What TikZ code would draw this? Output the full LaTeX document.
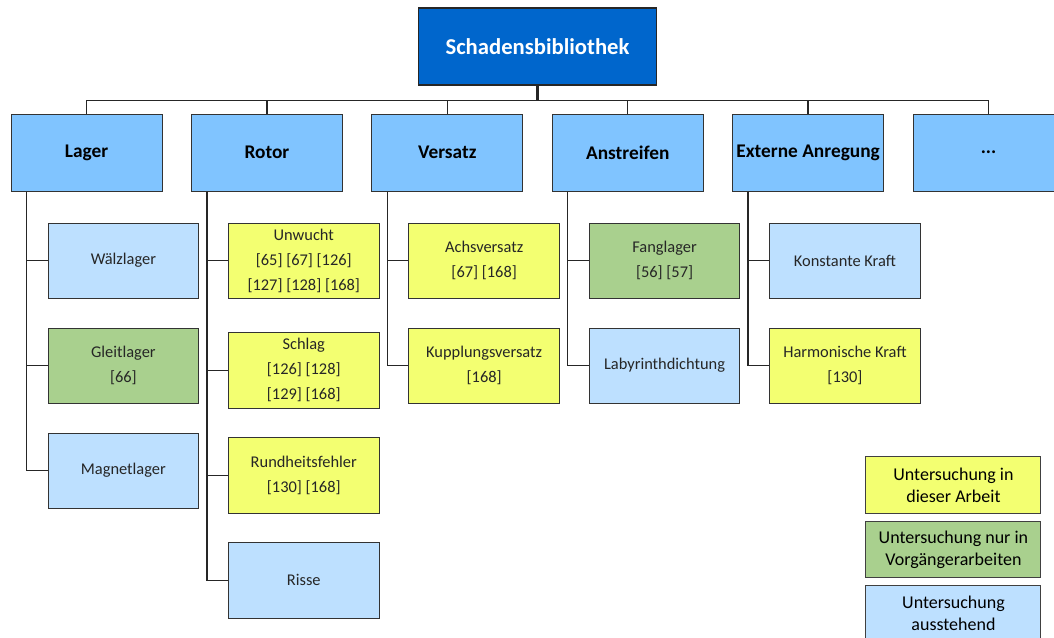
\documentclass[tikz,border=0pt]{standalone}
\usepackage{fontspec}
\setmainfont{Carlito}
\usetikzlibrary{positioning}
\definecolor{topblue}{RGB}{0,102,204}
\definecolor{catblue}{RGB}{128,196,255}
\definecolor{subblue}{RGB}{189,224,255}
\definecolor{subyellow}{RGB}{243,255,113}
\definecolor{subgreen}{RGB}{169,208,142}
\tikzset{
  root/.style={rectangle, draw=black!85, line width=0.9pt, fill=topblue, text=white,
    minimum width=179pt, minimum height=57.75pt, font=\fontsize{17}{20}\selectfont\bfseries},
  cat/.style={rectangle, draw=black!80, line width=0.75pt, fill=catblue,
    minimum width=113.25pt, minimum height=57.75pt, inner sep=1pt, font=\fontsize{14.5}{17}\selectfont\bfseries},
  sub/.style={rectangle, draw=black!80, line width=0.75pt, align=center, text=black!85,
    minimum width=113pt, minimum height=56.5pt, inner sep=1pt, font=\fontsize{12.3}{18.75}\selectfont},
  legend/.style={rectangle, draw=black!75, line width=0.75pt, align=center,
    minimum width=131.25pt, minimum height=42.5pt, inner sep=1pt, font=\fontsize{13.5}{16.5}\selectfont},
  link/.style={draw=black!85, line width=1.1pt}
}

\begin{document}
\begin{tikzpicture}[node distance=21.5pt]
\path[use as bounding box, clip] (0,0) rectangle (790.5pt,-477.75pt);

% root and categories
\node[root] (root) at (403.1pt,-34.9pt) {Schadensbibliothek};
\node[cat] (lager) at (64.9pt,-114.4pt) {Lager};
\node[cat, right=21.3pt of lager] (rotor) {Rotor};
\node[cat, right=21.3pt of rotor] (versatz) {Versatz};
\node[cat, right=21.3pt of versatz] (anstreifen) {Anstreifen};
\node[cat, right=21.3pt of anstreifen] (extern) {Externe Anregung};
\node[cat, right=21.3pt of extern] (weitere) {...};

% Lager
\node[sub, fill=subblue, below right=23.25pt and 27.75pt of lager.south west] (waelz) {Wälzlager};
\node[sub, fill=subgreen, below=of waelz] (gleit) {Gleitlager\\{[66]}};
\node[sub, fill=subblue, below=of gleit] (magnet) {Magnetlager};

% Rotor
\node[sub, fill=subyellow, below right=23.25pt and 27.75pt of rotor.south west] (unwucht) {Unwucht\\{[65] [67] [126]}\\{[127] [128] [168]}};
\node[sub, fill=subyellow, below=25pt of unwucht] (schlag) {Schlag\\{[126] [128]}\\{[129] [168]}};
\node[sub, fill=subyellow, below=of schlag] (rund) {Rundheitsfehler\\{[130] [168]}};
\node[sub, fill=subblue, below=of rund] (risse) {Risse};

% Versatz
\node[sub, fill=subyellow, below right=23.25pt and 27.75pt of versatz.south west] (achs) {Achsversatz\\{[67] [168]}};
\node[sub, fill=subyellow, below=of achs] (kuppl) {Kupplungsversatz\\{[168]}};

% Anstreifen
\node[sub, fill=subgreen, below right=23.25pt and 27.75pt of anstreifen.south west] (fang) {Fanglager\\{[56] [57]}};
\node[sub, fill=subblue, below=of fang] (laby) {Labyrinthdichtung};

% Externe Anregung
\node[sub, fill=subblue, below right=23.25pt and 27.75pt of extern.south west] (konst) {Konstante Kraft};
\node[sub, fill=subyellow, below=of konst] (harm) {Harmonische Kraft\\{[130]}};

% legend
\node[legend, fill=subyellow] (legA) at (715.1pt,-363.75pt) {Untersuchung in\\dieser Arbeit};
\node[legend, fill=subgreen, below=5pt of legA] (legB) {Untersuchung nur in\\Vorgängerarbeiten};
\node[legend, fill=subblue, below=5pt of legB] (legC) {Untersuchung\\ausstehend};

% connectors
\draw[link, line width=1.6pt] (root.south) -- ++(0,-11.25pt);
\foreach \c in {lager,rotor,versatz,anstreifen,extern,weitere}
  \draw[link] (root.south) ++(0,-11.25pt) -| (\c.north);
\foreach \c/\s in {lager/waelz, lager/gleit, lager/magnet,
                   rotor/unwucht, rotor/schlag, rotor/rund, rotor/risse,
                   versatz/achs, versatz/kuppl,
                   anstreifen/fang, anstreifen/laby,
                   extern/konst, extern/harm}
  \draw[link] ([xshift=12pt]\c.south west) |- (\s.west);

\end{tikzpicture}
\end{document}
